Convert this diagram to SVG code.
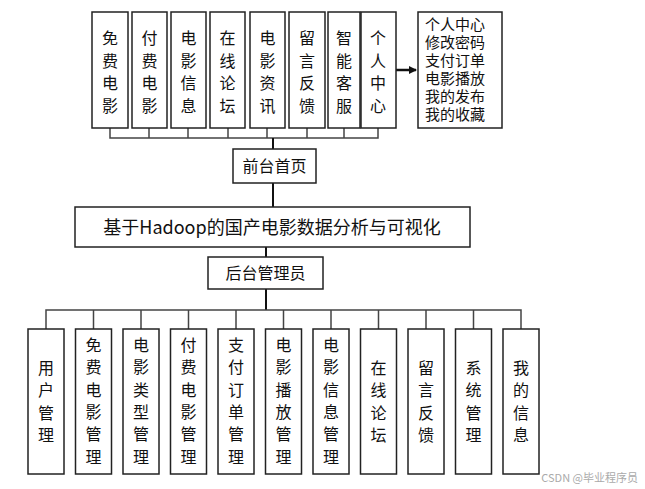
<svg xmlns="http://www.w3.org/2000/svg" width="645" height="489" viewBox="0 0 645 489">
<style>
.b{fill:#fff;stroke:#222;stroke-width:1.5}
.l{stroke:#444;stroke-width:1.5;fill:none}
.t{font-family:"Noto Sans CJK SC","Liberation Sans",sans-serif;font-size:16px;fill:#111;text-anchor:middle}
.r{font-family:"Noto Sans CJK SC",sans-serif;font-size:15px;fill:#111}
</style>
<defs><marker id="a" markerWidth="8" markerHeight="8" refX="7" refY="4" orient="auto" markerUnits="userSpaceOnUse"><path d="M0,0L8,4L0,8z" fill="#111"/></marker></defs>
<g id="connectors">
<path class="l" d="M110,128V138H378V128M149,128V138M188,128V138M228,128V138M267,128V138M307,128V138M344,128V138"/>
<path class="l" d="M273,138V149M273,183V207M266,247V257M266,289V310" style="stroke:#111;stroke-width:2"/>
<path class="l" d="M46,329V310H521V329M93.5,310V329M141,310V329M188.5,310V329M236,310V329M283.5,310V329M331,310V329M378.5,310V329M426,310V329M473.5,310V329"/>
<path d="M396,70H416" stroke="#111" stroke-width="2.5" marker-end="url(#a)"/>
</g>
<g id="top">
<g><rect class="b" x="92" y="12" width="36" height="116"/><text class="t" x="110" y="44">免<tspan x="110" dy="22.5">费</tspan><tspan x="110" dy="22.5">电</tspan><tspan x="110" dy="22.5">影</tspan></text></g>
<g><rect class="b" x="132" y="12" width="35" height="116"/><text class="t" x="149.5" y="44">付<tspan x="149.5" dy="22.5">费</tspan><tspan x="149.5" dy="22.5">电</tspan><tspan x="149.5" dy="22.5">影</tspan></text></g>
<g><rect class="b" x="171" y="12" width="35" height="116"/><text class="t" x="188.5" y="44">电<tspan x="188.5" dy="22.5">影</tspan><tspan x="188.5" dy="22.5">信</tspan><tspan x="188.5" dy="22.5">息</tspan></text></g>
<g><rect class="b" x="210" y="12" width="35" height="116"/><text class="t" x="227.5" y="44">在<tspan x="227.5" dy="22.5">线</tspan><tspan x="227.5" dy="22.5">论</tspan><tspan x="227.5" dy="22.5">坛</tspan></text></g>
<g><rect class="b" x="250" y="12" width="35" height="116"/><text class="t" x="267.5" y="44">电<tspan x="267.5" dy="22.5">影</tspan><tspan x="267.5" dy="22.5">资</tspan><tspan x="267.5" dy="22.5">讯</tspan></text></g>
<g><rect class="b" x="289" y="12" width="36" height="116"/><text class="t" x="307" y="44">留<tspan x="307" dy="22.5">言</tspan><tspan x="307" dy="22.5">反</tspan><tspan x="307" dy="22.5">馈</tspan></text></g>
<g><rect class="b" x="328" y="12" width="32" height="116"/><text class="t" x="344" y="44">智<tspan x="344" dy="22.5">能</tspan><tspan x="344" dy="22.5">客</tspan><tspan x="344" dy="22.5">服</tspan></text></g>
<g><rect class="b" x="361" y="12" width="35" height="116"/><text class="t" x="378" y="44">个<tspan x="378" dy="22.5">人</tspan><tspan x="378" dy="22.5">中</tspan><tspan x="378" dy="22.5">心</tspan></text></g>
<g><rect class="b" x="418" y="12" width="84" height="116"/><text class="r" x="425" y="30">个人中心<tspan x="425" dy="18">修改密码</tspan><tspan x="425" dy="18">支付订单</tspan><tspan x="425" dy="18">电影播放</tspan><tspan x="425" dy="18">我的发布</tspan><tspan x="425" dy="18">我的收藏</tspan></text></g>
<g><rect class="b" x="233" y="149" width="83" height="34"/><text class="t" x="274.5" y="172">前台首页</text></g>
</g>
<g id="main"><rect class="b" x="75" y="207" width="395" height="40"/><text class="t" x="272" y="234" style="font-size:18px">基于Hadoop的国产电影数据分析与可视化</text></g>
<g id="bottom">
<g><rect class="b" x="208" y="257" width="115" height="32"/><text class="t" x="265.5" y="279">后台管理员</text></g>
<g><rect class="b" x="28" y="329" width="36" height="145"/><text class="t" x="46" y="374">用<tspan x="46" dy="22.3">户</tspan><tspan x="46" dy="22.3">管</tspan><tspan x="46" dy="22.3">理</tspan></text></g>
<g><rect class="b" x="75.5" y="329" width="36" height="145"/><text class="t" x="93.5" y="351">免<tspan x="93.5" dy="22.3">费</tspan><tspan x="93.5" dy="22.3">电</tspan><tspan x="93.5" dy="22.3">影</tspan><tspan x="93.5" dy="22.3">管</tspan><tspan x="93.5" dy="22.3">理</tspan></text></g>
<g><rect class="b" x="123" y="329" width="36" height="145"/><text class="t" x="141" y="351">电<tspan x="141" dy="22.3">影</tspan><tspan x="141" dy="22.3">类</tspan><tspan x="141" dy="22.3">型</tspan><tspan x="141" dy="22.3">管</tspan><tspan x="141" dy="22.3">理</tspan></text></g>
<g><rect class="b" x="170.5" y="329" width="36" height="145"/><text class="t" x="188.5" y="351">付<tspan x="188.5" dy="22.3">费</tspan><tspan x="188.5" dy="22.3">电</tspan><tspan x="188.5" dy="22.3">影</tspan><tspan x="188.5" dy="22.3">管</tspan><tspan x="188.5" dy="22.3">理</tspan></text></g>
<g><rect class="b" x="218" y="329" width="36" height="145"/><text class="t" x="236" y="351">支<tspan x="236" dy="22.3">付</tspan><tspan x="236" dy="22.3">订</tspan><tspan x="236" dy="22.3">单</tspan><tspan x="236" dy="22.3">管</tspan><tspan x="236" dy="22.3">理</tspan></text></g>
<g><rect class="b" x="265.5" y="329" width="36" height="145"/><text class="t" x="283.5" y="351">电<tspan x="283.5" dy="22.3">影</tspan><tspan x="283.5" dy="22.3">播</tspan><tspan x="283.5" dy="22.3">放</tspan><tspan x="283.5" dy="22.3">管</tspan><tspan x="283.5" dy="22.3">理</tspan></text></g>
<g><rect class="b" x="313" y="329" width="36" height="145"/><text class="t" x="331" y="351">电<tspan x="331" dy="22.3">影</tspan><tspan x="331" dy="22.3">信</tspan><tspan x="331" dy="22.3">息</tspan><tspan x="331" dy="22.3">管</tspan><tspan x="331" dy="22.3">理</tspan></text></g>
<g><rect class="b" x="360.5" y="329" width="36" height="145"/><text class="t" x="378.5" y="374">在<tspan x="378.5" dy="22.3">线</tspan><tspan x="378.5" dy="22.3">论</tspan><tspan x="378.5" dy="22.3">坛</tspan></text></g>
<g><rect class="b" x="408" y="329" width="36" height="145"/><text class="t" x="426" y="374">留<tspan x="426" dy="22.3">言</tspan><tspan x="426" dy="22.3">反</tspan><tspan x="426" dy="22.3">馈</tspan></text></g>
<g><rect class="b" x="455.5" y="329" width="36" height="145"/><text class="t" x="473.5" y="374">系<tspan x="473.5" dy="22.3">统</tspan><tspan x="473.5" dy="22.3">管</tspan><tspan x="473.5" dy="22.3">理</tspan></text></g>
<g><rect class="b" x="503" y="329" width="36" height="145"/><text class="t" x="521" y="374">我<tspan x="521" dy="22.3">的</tspan><tspan x="521" dy="22.3">信</tspan><tspan x="521" dy="22.3">息</tspan></text></g>
</g>
<text x="638" y="482" style="font-family:'Noto Sans CJK SC',sans-serif;font-size:11px;fill:#aaa;text-anchor:end">CSDN @毕业程序员</text>
</svg>
